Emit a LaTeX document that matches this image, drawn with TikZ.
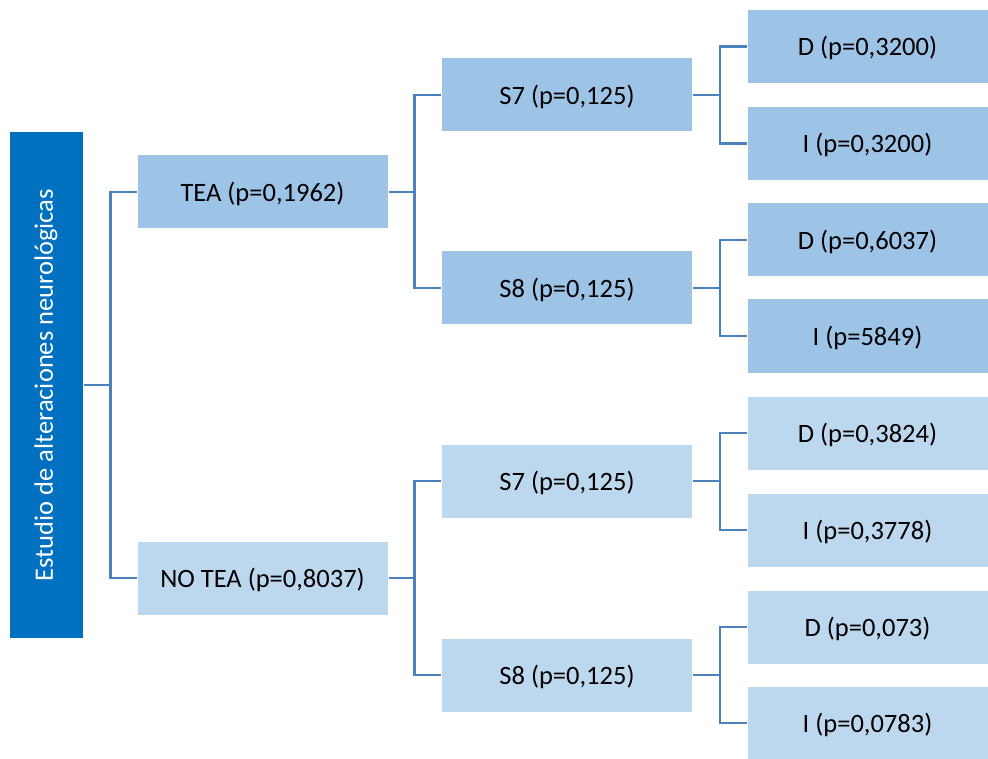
\documentclass[tikz,border=0pt]{standalone}
\usepackage{fontspec}
\setmainfont{Carlito}
\usetikzlibrary{positioning, calc}

\definecolor{rootblue}{RGB}{0,112,192}
\definecolor{teablue}{RGB}{157,195,230}
\definecolor{noteablue}{RGB}{189,215,238}
\definecolor{linkblue}{RGB}{74,130,189}

\begin{document}
\begin{tikzpicture}[
        x=1pt, y=-1pt,
        box/.style={rectangle, draw=white, line width=1pt, align=center, inner sep=0pt,
                    font=\fontsize{26.5}{31}\selectfont},
        rootbox/.style={box, fill=rootblue, text=white, minimum width=74pt, minimum height=506pt},
        midbox/.style={box, minimum width=251pt, minimum height=74pt, text depth=1pt},
        leafbox/.style={box, minimum width=241pt, minimum height=74pt, text depth=1pt},
        link/.style={draw=linkblue, line width=2.5pt}
    ]
    \useasboundingbox (0,0) rectangle (988,759);

    % Root
    \node[rootbox] (root) at (46,385) {\rotatebox{90}{Estudio de alteraciones neurológicas}};

    % Level 1
    \node[midbox, fill=teablue]   (tea)   at (262.5,192) {TEA (p=0,1962)};
    \node[midbox, fill=noteablue] (notea) at (262.5,578) {NO TEA (p=0,8037)};

    % Level 2
    \node[midbox, fill=teablue]   (teaS7)   at (567,95)  {S7 (p=0,125)};
    \node[midbox, fill=teablue]   (teaS8)   at (567,288) {S8 (p=0,125)};
    \node[midbox, fill=noteablue] (noteaS7) at (567,481) {S7 (p=0,125)};
    \node[midbox, fill=noteablue] (noteaS8) at (567,675) {S8 (p=0,125)};

    % Level 3
    \node[leafbox, fill=teablue]   (teaS7D)   at (867.5,46.5)  {D (p=0,3200)};
    \node[leafbox, fill=teablue]   (teaS7I)   at (867.5,143.5) {I (p=0,3200)};
    \node[leafbox, fill=teablue]   (teaS8D)   at (867.5,240)   {D (p=0,6037)};
    \node[leafbox, fill=teablue]   (teaS8I)   at (867.5,336)   {I (p=5849)};
    \node[leafbox, fill=noteablue] (noteaS7D) at (867.5,433)   {D (p=0,3824)};
    \node[leafbox, fill=noteablue] (noteaS7I) at (867.5,530)   {I (p=0,3778)};
    \node[leafbox, fill=noteablue] (noteaS8D) at (867.5,627)   {D (p=0,073)};
    \node[leafbox, fill=noteablue] (noteaS8I) at (867.5,723)   {I (p=0,0783)};

    % Connectors
    \draw[link] (root.east) -- ++(27,0) coordinate (j0);
    \draw[link] (j0) |- (tea.west);
    \draw[link] (j0) |- (notea.west);

    \foreach \p in {tea, notea} {
        \draw[link] (\p.east) -- ++(26,0) coordinate (j\p);
        \draw[link] (j\p) |- (\p S7.west);
        \draw[link] (j\p) |- (\p S8.west);
    }

    \foreach \p in {teaS7, teaS8, noteaS7, noteaS8} {
        \draw[link] (\p.east) -- ++(27,0) coordinate (j\p);
        \draw[link] (j\p) |- (\p D.west);
        \draw[link] (j\p) |- (\p I.west);
    }

\end{tikzpicture}
\end{document}
